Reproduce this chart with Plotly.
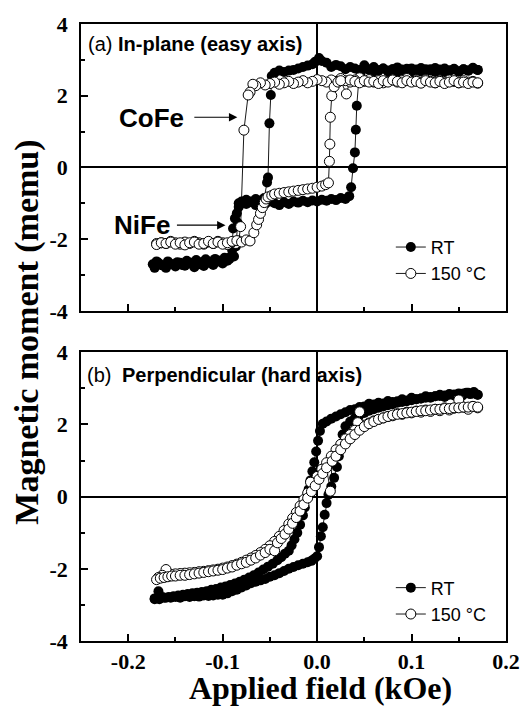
import plotly.graph_objects as go

# ---------------- data ----------------
# (a) in-plane, RT, descending branch (field swept + -> -)
a_rt_dn_x = [0.170,0.165,0.160,0.155,0.150,0.145,0.140,0.135,0.130,0.125,0.120,0.115,0.110,0.105,0.100,0.095,0.090,0.085,0.080,0.075,0.070,0.065,0.060,0.055,0.050,0.045,0.040,0.035,0.030,0.025,0.020,0.015,0.010,0.005,
             0.002,-0.002,-0.005,-0.010,-0.015,-0.020,-0.025,-0.030,-0.035,-0.040,-0.045,-0.048,-0.049,-0.0505,-0.052,-0.053,
             -0.056,-0.060,-0.065,-0.070,-0.075,-0.080,-0.083,-0.085,-0.087,-0.089,-0.090,-0.092,
             -0.095,-0.100,-0.105,-0.110,-0.115,-0.120,-0.125,-0.130,-0.135,-0.140,-0.145,-0.150,-0.155,-0.160,-0.165,-0.170,-0.174]
a_rt_dn_y = [2.72,2.78,2.70,2.74,2.68,2.75,2.71,2.66,2.73,2.77,2.70,2.74,2.68,2.72,2.76,2.70,2.73,2.67,2.74,2.70,
             2.76,2.71,2.68,2.74,2.79,2.72,2.76,2.80,2.74,2.82,2.86,2.80,2.92,2.97,
             3.05,2.95,2.88,2.84,2.80,2.76,2.72,2.70,2.66,2.70,2.64,2.55,2.02,1.23,-0.28,-0.42,
             -0.85,-0.92,-0.88,-0.95,-0.90,-0.97,-1.00,-1.28,-1.42,-1.70,-2.30,-2.50,
             -2.60,-2.68,-2.62,-2.72,-2.66,-2.75,-2.70,-2.78,-2.68,-2.74,-2.66,-2.76,-2.70,-2.80,-2.72,-2.62,-2.70]
# (a) in-plane, RT, ascending branch
a_rt_up_x = [-0.172,-0.168,-0.163,-0.158,-0.153,-0.148,-0.143,-0.138,-0.133,-0.128,-0.123,-0.118,-0.113,-0.108,-0.103,-0.098,-0.093,-0.088,
             -0.086,-0.084,-0.083,
             -0.080,-0.075,-0.070,-0.065,-0.060,-0.055,-0.050,-0.045,-0.040,-0.035,-0.030,-0.025,-0.020,-0.015,-0.010,-0.005,
             0.000,0.005,0.010,0.015,0.020,0.025,0.030,
             0.034,0.036,0.038,0.040,0.041,0.042,0.044,0.046,
             0.050,0.055,0.060,0.065,0.070,0.075,0.080,0.085,0.090,0.095,0.100,0.105,0.110,0.115,0.120,0.125,0.130,0.135,0.140,0.145,0.150,0.155,0.160,0.165,0.170]
a_rt_up_y = [-2.80,-2.66,-2.74,-2.62,-2.70,-2.64,-2.72,-2.60,-2.66,-2.58,-2.64,-2.56,-2.62,-2.55,-2.60,-2.52,-2.56,-2.48,
             -2.20,-1.55,-1.10,
             -0.95,-1.02,-0.97,-1.05,-0.98,-1.02,-0.95,-1.00,-1.05,-0.97,-1.02,-0.95,-0.98,-0.93,-0.97,-0.92,
             -0.95,-0.90,-0.93,-0.88,-0.91,-0.85,-0.88,
             -0.80,-0.55,-0.02,0.42,1.05,1.72,2.40,2.62,
             2.85,2.72,2.80,2.70,2.76,2.68,2.74,2.79,2.71,2.75,2.68,2.73,2.77,2.70,2.74,2.66,2.72,2.76,2.69,2.73,2.67,2.74,2.70,2.76,2.72]
# (a) in-plane, 150 C, descending branch
a_hot_dn_x = [0.170,0.165,0.160,0.155,0.150,0.145,0.140,0.135,0.130,0.125,0.120,0.115,0.110,0.105,0.100,0.095,0.090,0.085,0.080,0.075,0.070,0.065,0.060,0.055,0.050,0.045,0.040,0.035,0.030,0.025,0.020,0.015,0.010,0.005,0.000,
              -0.005,-0.010,-0.015,-0.020,-0.025,-0.030,-0.035,-0.040,-0.045,-0.050,-0.055,-0.060,-0.065,
              -0.068,-0.071,-0.073,-0.0775,-0.081,-0.083,-0.086,-0.090,
              -0.095,-0.100,-0.105,-0.110,-0.115,-0.120,-0.125,-0.130,-0.135,-0.140,-0.145,-0.150,-0.155,-0.160,-0.165,-0.170]
a_hot_dn_y = [2.35,2.40,2.38,2.42,2.36,2.40,2.44,2.38,2.42,2.36,2.40,2.45,2.38,2.42,2.40,2.48,2.42,2.38,2.44,2.40,
              2.36,2.42,2.38,2.45,2.40,2.50,2.44,2.38,2.42,2.48,2.40,2.44,2.38,2.42,2.45,
              2.40,2.36,2.42,2.38,2.34,2.40,2.36,2.32,2.38,2.34,2.30,2.36,2.28,
              2.32,2.10,2.02,1.04,-1.65,-2.05,-2.12,-2.08,
              -2.15,-2.10,-2.06,-2.12,-2.08,-2.14,-2.10,-2.06,-2.12,-2.08,-2.14,-2.10,-2.06,-2.12,-2.10,-2.12]
# (a) in-plane, 150 C, ascending branch
a_hot_up_x = [-0.170,-0.165,-0.160,-0.155,-0.150,-0.145,-0.140,-0.135,-0.130,-0.125,-0.120,-0.115,-0.110,-0.105,-0.100,-0.095,-0.090,-0.085,-0.080,-0.075,-0.071,
              -0.067,-0.064,-0.062,-0.060,-0.058,-0.056,-0.054,-0.052,
              -0.048,-0.045,-0.040,-0.035,-0.030,-0.025,-0.020,-0.015,-0.010,-0.005,0.000,0.005,0.009,0.012,
              0.013,0.0135,0.014,0.0155,0.018,0.022,0.025,0.031,
              0.035,0.040,0.045,0.050,0.055,0.060,0.065,0.070,0.075,0.080,0.085,0.090,0.095,0.100,0.105,0.110,0.115,0.120,0.125,0.130,0.135,0.140,0.145,0.150,0.155,0.160,0.165,0.170]
a_hot_up_y = [-2.15,-2.10,-2.12,-2.08,-2.14,-2.10,-2.16,-2.10,-2.08,-2.14,-2.12,-2.06,-2.12,-2.08,-2.14,-2.10,-2.06,-2.04,-2.08,-2.02,-2.05,
              -1.82,-1.60,-1.45,-1.28,-1.12,-0.98,-0.88,-0.82,
              -0.78,-0.74,-0.72,-0.70,-0.68,-0.66,-0.64,-0.62,-0.60,-0.58,-0.55,-0.52,-0.48,-0.43,
              0.17,0.65,1.40,2.00,2.25,2.38,2.42,2.05,
              2.44,2.40,2.36,2.42,2.38,2.40,2.34,2.42,2.38,2.44,2.40,2.36,2.42,2.38,2.40,2.35,2.42,2.38,2.36,2.40,2.34,2.38,2.42,2.36,2.38,2.34,2.38,2.36]

# (b) perpendicular, RT, descending branch
b_rt_dn_x = [0.170,0.166,0.162,0.158,0.154,
             0.150,0.145,0.140,0.135,0.130,0.125,0.120,0.115,0.110,0.105,0.100,0.095,0.090,0.085,0.080,0.075,0.070,0.065,0.060,0.055,0.050,0.045,0.040,0.035,0.030,0.025,0.020,0.015,0.010,
             0.006,0.003,0.001,-0.001,-0.003,-0.005,-0.007,-0.009,-0.011,-0.013,-0.015,
             -0.018,-0.021,-0.024,-0.027,-0.030,-0.034,-0.038,-0.042,
             -0.047,-0.052,-0.057,-0.062,-0.067,-0.072,-0.077,-0.082,-0.087,-0.092,-0.097,-0.102,-0.107,-0.112,-0.117,-0.122,-0.127,-0.132,-0.137,-0.142,-0.147,-0.152,-0.157,-0.162,-0.167,-0.172]
b_rt_dn_y = [2.82,2.90,2.84,2.88,2.80,
             2.86,2.80,2.84,2.76,2.82,2.78,2.74,2.78,2.72,2.70,2.74,2.66,2.70,2.64,2.62,2.65,2.58,2.60,2.55,2.57,2.50,2.48,2.42,2.40,2.34,2.28,2.22,2.16,2.08,
             2.02,1.82,1.55,1.25,0.95,0.70,0.45,0.20,-0.05,-0.30,-0.52,
             -0.78,-1.00,-1.18,-1.35,-1.50,-1.58,-1.68,-1.76,
             -1.86,-1.94,-2.02,-2.10,-2.18,-2.24,-2.30,-2.36,-2.41,-2.45,-2.49,-2.52,-2.56,-2.58,-2.62,-2.64,-2.66,-2.68,-2.70,-2.72,-2.74,-2.76,-2.78,-2.80,-2.84,-2.82]
# (b) perpendicular, RT, ascending branch
b_rt_up_x = [-0.172,-0.168,-0.164,-0.160,
             -0.155,-0.150,-0.145,-0.140,-0.135,-0.130,-0.125,-0.120,-0.115,-0.110,-0.105,-0.100,-0.095,-0.090,-0.085,-0.080,-0.075,-0.070,-0.065,-0.060,-0.055,-0.050,-0.045,-0.040,-0.035,-0.030,-0.025,-0.020,-0.015,-0.010,
             -0.006,-0.003,0.000,0.002,0.004,0.006,0.008,0.010,0.012,
             0.015,0.018,0.021,0.023,0.025,0.027,0.030,
             0.035,0.040,0.045,0.050,0.055,0.060,0.065,0.070,0.075,0.080,0.085,0.090,0.095,0.100,0.105,0.110,0.115,0.120,0.125,0.130,0.135,0.140,0.145,0.150,0.155,0.160,0.165,0.170]
b_rt_up_y = [-2.84,-2.62,-2.78,-2.80,
             -2.80,-2.78,-2.80,-2.76,-2.78,-2.76,-2.77,-2.74,-2.75,-2.74,-2.72,-2.72,-2.68,-2.62,-2.58,-2.52,-2.46,-2.40,-2.36,-2.32,-2.28,-2.22,-2.18,-2.12,-2.06,-2.00,-1.95,-1.90,-1.86,-1.82,
             -1.78,-1.72,-1.65,-1.40,-1.10,-0.85,-0.50,-0.18,0.05,
             0.28,0.52,0.82,1.12,1.45,1.72,1.95,
             2.08,2.18,2.26,2.32,2.38,2.42,2.46,2.50,2.53,2.56,2.60,2.62,2.64,2.67,2.70,2.72,2.74,2.76,2.78,2.79,2.80,2.82,2.83,2.84,2.86,2.88,2.86,2.82]
# (b) perpendicular, 150 C, descending branch
b_hot_dn_x = [0.170,0.165,0.160,0.155,0.150,0.145,0.140,0.135,0.130,0.125,0.120,0.115,0.110,0.105,0.100,0.095,0.090,0.085,0.080,0.075,0.070,0.065,0.060,0.055,0.050,0.045,
              0.043,0.040,0.035,0.030,0.025,0.020,0.015,0.010,0.005,0.000,
              -0.004,-0.007,-0.010,-0.014,-0.018,-0.022,-0.026,-0.030,
              -0.035,-0.040,-0.045,-0.050,-0.055,-0.060,-0.065,-0.070,-0.075,-0.080,-0.085,-0.090,-0.095,-0.100,-0.105,-0.110,-0.115,-0.120,-0.125,-0.130,-0.135,-0.140,-0.145,-0.150,-0.155,-0.160,
              -0.164,-0.168]
b_hot_dn_y = [2.46,2.50,2.42,2.48,2.68,2.45,2.40,2.46,2.38,2.42,2.36,2.40,2.34,2.37,2.32,2.34,2.28,2.30,2.24,2.22,2.18,2.14,2.10,2.04,1.98,2.35,
              2.05,1.84,1.72,1.60,1.45,1.30,1.12,0.94,0.76,0.56,
              0.38,0.40,0.10,-0.08,-0.26,-0.44,-0.60,-0.76,
              -0.94,-1.10,-1.24,-1.36,-1.46,-1.55,-1.63,-1.70,-1.76,-1.82,-1.87,-1.91,-1.95,-1.98,-2.01,-2.03,-2.05,-2.07,-2.08,-2.10,-2.11,-2.12,-2.13,-2.14,-2.15,-2.02,
              -2.18,-2.24]
# (b) perpendicular, 150 C, ascending branch
b_hot_up_x = [-0.170,-0.166,-0.162,-0.158,-0.154,
              -0.150,-0.145,-0.140,-0.135,-0.130,-0.125,-0.120,-0.115,-0.110,-0.105,-0.100,-0.095,-0.090,-0.085,-0.080,-0.075,-0.070,-0.065,-0.060,-0.055,-0.050,
              -0.045,-0.042,-0.038,-0.034,-0.030,-0.026,-0.022,-0.018,-0.014,-0.010,-0.006,-0.002,0.002,0.006,0.010,0.014,0.016,0.020,
              0.025,0.030,0.035,0.040,0.045,0.050,0.055,0.060,0.065,0.070,0.075,0.080,0.085,0.090,0.095,0.100,0.105,0.110,0.115,0.120,0.125,0.130,0.135,0.140,0.145,0.150,0.155,0.160,0.165,0.170]
b_hot_up_y = [-2.30,-2.26,-2.24,-2.22,-2.20,
              -2.20,-2.18,-2.18,-2.16,-2.14,-2.12,-2.10,-2.08,-2.06,-2.04,-2.02,-1.98,-1.95,-1.90,-1.86,-1.82,-1.76,-1.70,-1.62,-1.55,-1.46,
              -1.50,-1.28,-1.16,-1.04,-0.90,-0.74,-0.58,-0.40,-0.22,-0.04,0.14,0.30,0.48,0.64,0.80,0.15,0.98,1.12,
              1.30,1.46,1.60,1.72,1.84,1.94,2.02,2.08,2.14,2.18,2.22,2.26,2.28,2.30,2.32,2.34,2.36,2.38,2.38,2.40,2.42,2.42,2.44,2.44,2.46,2.46,2.48,2.48,2.50,2.48]

# axes ticks / labels
x_ticks = [-0.2, -0.1, 0.0, 0.1, 0.2]
x_tick_labels = ["-0.2", "-0.1", "0.0", "0.1", "0.2"]
x_minor = [-0.15, -0.05, 0.05, 0.15]
y_ticks = [-4, -2, 0, 2, 4]
y_tick_labels = ["-4", "-2", "0", "2", "4"]
y_minor = [-3, -1, 1, 3]
series_names = ["RT", "150 \u00b0C"]

for a, b in [(a_rt_dn_x, a_rt_dn_y), (a_rt_up_x, a_rt_up_y), (a_hot_dn_x, a_hot_dn_y), (a_hot_up_x, a_hot_up_y),
             (b_rt_dn_x, b_rt_dn_y), (b_rt_up_x, b_rt_up_y), (b_hot_dn_x, b_hot_dn_y), (b_hot_up_x, b_hot_up_y)]:
    assert len(a) == len(b), (len(a), len(b))

# ---------------- figure ----------------
SERIF = "Liberation Serif"
SANS = "Liberation Sans"

fig = go.Figure()

def add_loop(dn_x, dn_y, up_x, up_y, name, filled, xa, ya, leg):
    fig.add_trace(go.Scatter(
        x=dn_x + up_x, y=dn_y + up_y, name=name, mode="lines+markers",
        xaxis=xa, yaxis=ya, legend=leg,
        line=dict(color="black", width=0.9),
        marker=dict(symbol="circle", size=10,
                    color="black" if filled else "white",
                    line=dict(color="black", width=0 if filled else 1)),
    ))

add_loop(a_rt_dn_x, a_rt_dn_y, a_rt_up_x, a_rt_up_y, series_names[0], True, "x", "y", "legend")
add_loop(a_hot_dn_x, a_hot_dn_y, a_hot_up_x, a_hot_up_y, series_names[1], False, "x", "y", "legend")
add_loop(b_rt_dn_x, b_rt_dn_y, b_rt_up_x, b_rt_up_y, series_names[0], True, "x2", "y2", "legend2")
add_loop(b_hot_dn_x, b_hot_dn_y, b_hot_up_x, b_hot_up_y, series_names[1], False, "x2", "y2", "legend2")

bold = lambda labels: ["<b>%s</b>" % t for t in labels]
tick_font = dict(family=SERIF, size=22, color="black", weight="bold")

common_x = dict(range=[-0.25, 0.2], tickmode="array", tickvals=x_ticks, ticktext=bold(x_tick_labels),
                ticks="inside", ticklen=7, tickwidth=1.5, tickcolor="black",
                minor=dict(tickmode="array", tickvals=x_minor, ticks="inside", ticklen=4, tickwidth=1.5, tickcolor="black"),
                showline=True, linecolor="black", linewidth=1.5, mirror=True,
                zeroline=True, zerolinecolor="black", zerolinewidth=1.5, showgrid=False,
                tickfont=tick_font)
common_y = dict(range=[-4, 4], tickmode="array", tickvals=y_ticks, ticktext=bold(y_tick_labels),
                ticks="inside", ticklen=7, tickwidth=1.5, tickcolor="black",
                minor=dict(tickmode="array", tickvals=y_minor, ticks="inside", ticklen=4, tickwidth=1.5, tickcolor="black"),
                showline=True, linecolor="black", linewidth=1.5, mirror=True,
                zeroline=True, zerolinecolor="black", zerolinewidth=1.5, showgrid=False,
                tickfont=tick_font, ticklabelstandoff=7)

legend_common = dict(xanchor="left", yanchor="top", bgcolor="rgba(0,0,0,0)",
                     font=dict(family=SANS, size=18, color="black"), tracegroupgap=0)

fig.update_layout(
    width=532, height=709,
    margin=dict(l=81, r=16, t=19, b=68, pad=0),
    paper_bgcolor="white", plot_bgcolor="white",
    xaxis=dict(common_x, domain=[0, 1], anchor="y", showticklabels=False),
    yaxis=dict(common_y, domain=[0.535, 1.0], anchor="x"),
    xaxis2=dict(common_x, domain=[0, 1], anchor="y2", ticklabelstandoff=0),
    yaxis2=dict(common_y, domain=[0.0, 0.468], anchor="x2"),
    legend=dict(legend_common, x=0.729, y=0.668),
    legend2=dict(legend_common, x=0.729, y=0.116),
    showlegend=True,
)

ann = []
# panel labels
ann.append(dict(x=-0.2445, y=3.45, xref="x", yref="y", text="(a)", showarrow=False, xanchor="left", yanchor="middle",
                font=dict(family=SANS, size=20, color="black")))
ann.append(dict(x=-0.2133, y=3.45, xref="x", yref="y", text="<b>In-plane (easy axis)</b>", showarrow=False,
                xanchor="left", yanchor="middle", font=dict(family=SANS, size=20, color="black")))
ann.append(dict(x=-0.2455, y=3.38, xref="x2", yref="y2", text="(b)", showarrow=False, xanchor="left", yanchor="middle",
                font=dict(family=SANS, size=20, color="black")))
ann.append(dict(x=-0.2092, y=3.38, xref="x2", yref="y2", text="<b>Perpendicular (hard axis)</b>", showarrow=False,
                xanchor="left", yanchor="middle", font=dict(family=SANS, size=20, color="black")))
# CoFe / NiFe labels with arrows
ann.append(dict(x=-0.175, y=1.38, xref="x", yref="y", text="<b>CoFe</b>", showarrow=False,
                xanchor="center", yanchor="middle", font=dict(family=SANS, size=26, color="black")))
ann.append(dict(x=-0.0845, y=1.40, ax=-0.1316, ay=1.40, xref="x", yref="y", axref="x", ayref="y",
                text="", showarrow=True, arrowhead=2, arrowsize=1.4, arrowwidth=1.2, arrowcolor="black"))
ann.append(dict(x=-0.185, y=-1.60, xref="x", yref="y", text="<b>NiFe</b>", showarrow=False,
                xanchor="center", yanchor="middle", font=dict(family=SANS, size=26, color="black")))
ann.append(dict(x=-0.097, y=-1.61, ax=-0.150, ay=-1.61, xref="x", yref="y", axref="x", ayref="y",
                text="", showarrow=True, arrowhead=2, arrowsize=1.4, arrowwidth=1.2, arrowcolor="black"))
# axis titles
ann.append(dict(x=-0.129, y=0.5, xref="paper", yref="paper", text="<b>Magnetic moment (memu)</b>",
                xanchor="center", yanchor="middle",
                textangle=-90, showarrow=False, font=dict(family=SERIF, size=34, color="black")))
ann.append(dict(x=0.564, y=-0.076, xref="paper", yref="paper", text="<b>Applied field (kOe)</b>",
                xanchor="center", yanchor="middle",
                showarrow=False, font=dict(family=SERIF, size=32, color="black")))
fig.update_layout(annotations=ann)

fig.write_html("out.html")
